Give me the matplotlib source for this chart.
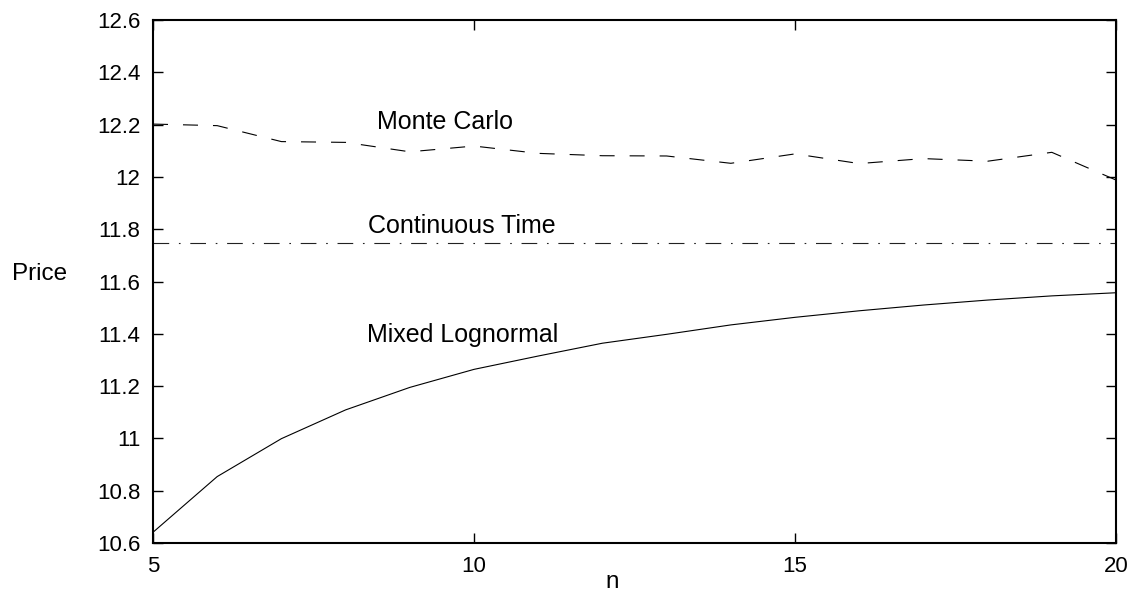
import matplotlib
matplotlib.use("Agg")
import matplotlib.pyplot as plt

plt.rcParams['font.family'] = ['Liberation Sans', 'DejaVu Sans']
plt.rcParams['lines.scale_dashes'] = False

n = [5, 6, 7, 8, 9, 10, 11, 12, 13, 14, 15, 16, 17, 18, 19, 20]
monte_carlo = [12.202, 12.196, 12.135, 12.132, 12.096, 12.118, 12.090, 12.081,
               12.080, 12.052, 12.088, 12.051, 12.070, 12.060, 12.094, 11.988]
continuous_time = 11.748
mixed_lognormal = [10.641, 10.854, 10.999, 11.109, 11.195, 11.264, 11.315, 11.364,
                   11.398, 11.434, 11.463, 11.488, 11.510, 11.529, 11.545, 11.557]

yticks = [10.6, 10.8, 11, 11.2, 11.4, 11.6, 11.8, 12, 12.2, 12.4, 12.6]
yticklabels = ['10.6', '10.8', '11', '11.2', '11.4', '11.6', '11.8', '12', '12.2', '12.4', '12.6']
xticks = [5, 10, 15, 20]

W, H = 1138, 595
fig = plt.figure(figsize=(W / 100, H / 100), dpi=100)
ax = fig.add_axes([153 / W, 1 - 543 / H, (1116 - 153) / W, (543 - 20) / H])

ax.plot(n, monte_carlo, color='black', lw=0.8, linestyle=(0, (10.8, 10.8)))
ax.plot([n[0], n[-1]], [continuous_time, continuous_time], color='#222222', lw=0.8,
        linestyle=(0, (11.3, 7.0, 1.2, 7.0)))
ax.plot(n, mixed_lognormal, color='black', lw=0.8)

fs = 16
lfs = 18
ax.text(8.49, 12.211, 'Monte Carlo', fontsize=lfs, va='center', ha='left')
ax.text(8.35, 11.812, 'Continuous Time', fontsize=lfs, va='center', ha='left')
ax.text(8.33, 11.395, 'Mixed Lognormal', fontsize=lfs, va='center', ha='left')

ax.set_xlim(5, 20)
ax.set_ylim(10.6, 12.6)
ax.set_xticks(xticks)
ax.set_xticklabels([str(x) for x in xticks])
ax.set_yticks(yticks)
ax.set_yticklabels(yticklabels)
ax.tick_params(direction='in', length=7, width=1, labelsize=fs, pad=9,
               top=True, right=True)
for s in ax.spines.values():
    s.set_linewidth(1.5)

fig.text(612 / W, 1 - 582 / H, 'n', fontsize=17.5, ha='center', va='center')
fig.text(12 / W, 1 - 274 / H, 'Price', fontsize=17.5, ha='left', va='center')

fig.savefig('out.png', dpi=100)
